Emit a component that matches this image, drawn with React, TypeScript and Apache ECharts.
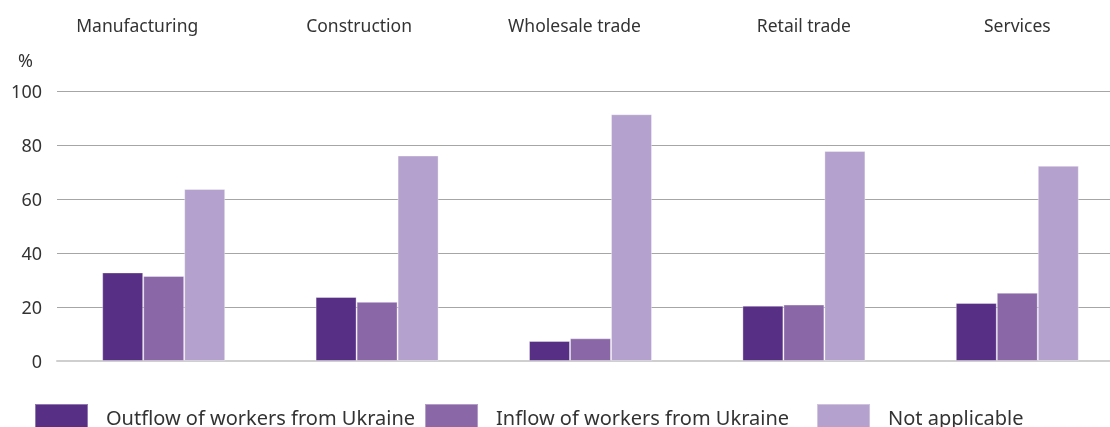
import React, { useEffect, useRef } from "react";
import * as echarts from "echarts";

const categories = ["Manufacturing", "Construction", "Wholesale trade", "Retail trade", "Services"];
const seriesNames = ["Outflow of workers from Ukraine", "Inflow of workers from Ukraine", "Not applicable"];
const outflow = [32.8, 23.7, 7.4, 20.5, 21.5];
const inflow = [31.5, 21.9, 8.4, 20.9, 25.3];
const notApplicable = [63.7, 76.1, 91.4, 77.8, 72.3];
const colors = ["#573085", "#8a68a8", "#b4a1cd"];
const FONT = "Noto Sans";
// label nudges (right padding, px) so the category headings sit as in the original
const labelShift = [53, 36, 32, 0, 0];
const legendTextWidths = [300, 311, 150];

export default function App() {
  const ref = useRef<HTMLDivElement>(null);
  useEffect(() => {
    if (!ref.current) return;
    const chart = echarts.init(ref.current, undefined, { renderer: "svg" });
    const values = [outflow, inflow, notApplicable];
    chart.setOption({
      animation: false,
      textStyle: { fontFamily: FONT },
      grid: { left: 57, right: 0, top: 91, bottom: 66 },
      legend: {
        top: 403,
        left: 34,
        width: 1080,
        padding: 0,
        itemWidth: 53,
        itemHeight: 26,
        itemGap: 9,
        icon: "rect",
        textStyle: {
          fontSize: 20,
          lineHeight: 24,
          color: "#333",
          fontFamily: FONT,
          width: 300,
          padding: [0, 0, 2, 13],
        },
        data: seriesNames.map((name, i) => ({ name, textStyle: { width: legendTextWidths[i] } })),
      },
      xAxis: [
        {
          type: "category",
          data: categories.map((c, i) => ({
            value: c,
            textStyle: { padding: [0, labelShift[i], 0, 0] },
          })),
          position: "top",
          axisLine: { show: false },
          axisTick: { show: false },
          axisLabel: { fontSize: 17.5, color: "#333", margin: 57, fontFamily: FONT },
        },
        {
          type: "category",
          data: categories,
          position: "bottom",
          axisLine: { show: true, lineStyle: { color: "#cfcfcf", width: 2 } },
          axisTick: { show: false },
          axisLabel: { show: false },
        },
      ],
      yAxis: {
        type: "value",
        min: 0,
        max: 100,
        interval: 20,
        name: "%",
        nameLocation: "end",
        nameGap: 22,
        nameTextStyle: { fontSize: 18, color: "#333", align: "right", padding: [0, 24, 0, 0], fontFamily: FONT },
        axisLine: { show: false },
        axisTick: { show: false },
        axisLabel: { fontSize: 18, color: "#333", margin: 15, fontFamily: FONT },
        splitLine: { lineStyle: { color: "#a6a6a6", width: 1 } },
      },
      series: seriesNames.map((name, i) => ({
        name,
        type: "bar",
        xAxisIndex: 0,
        data: values[i],
        barWidth: 41,
        barGap: "0%",
        itemStyle: { color: colors[i], borderColor: "rgba(255,255,255,0.35)", borderWidth: 1 },
      })),
    });
    return () => chart.dispose();
  }, []);
  return <div ref={ref} style={{ position: "fixed", left: 0, top: 0, width: 1124, height: 427 }} />;
}
